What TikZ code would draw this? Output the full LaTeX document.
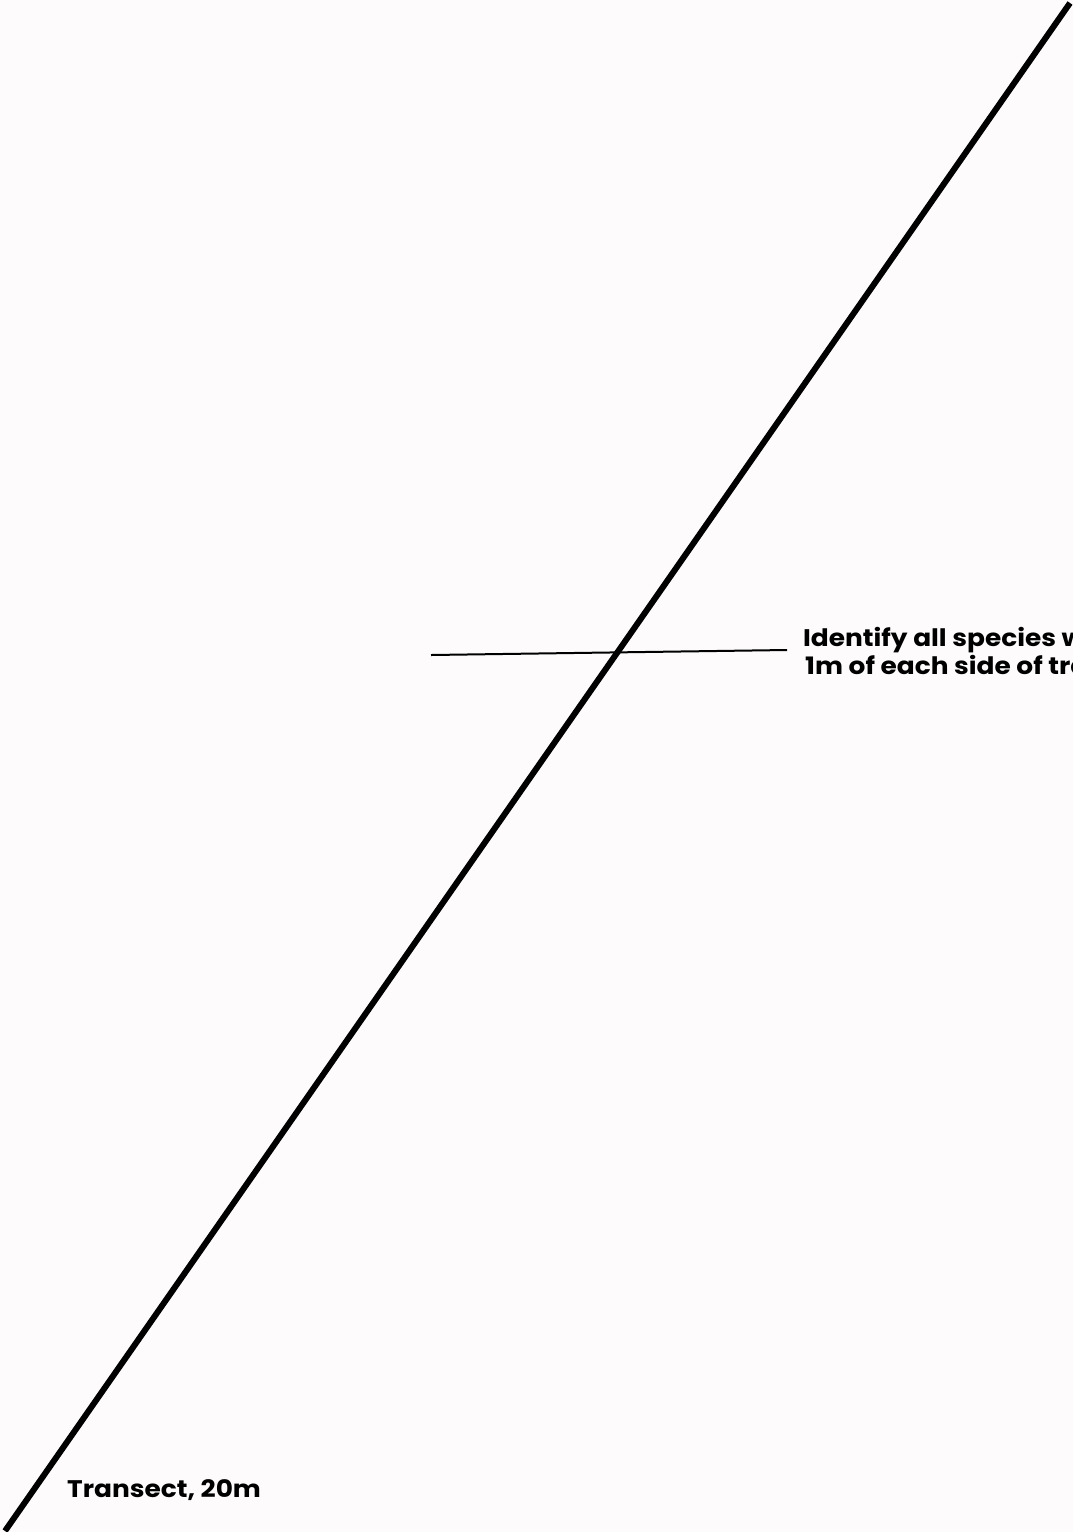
\documentclass[tikz,border=0pt]{standalone}
\usepackage{fontspec}
\setmainfont{Poppins}
\definecolor{bgc}{RGB}{253,251,251}
\newcommand{\widetxt}[1]{\scalebox{1.1}[1]{#1}}
\begin{document}
\begin{tikzpicture}[x=1pt,y=-1pt,
  lbl/.style={inner sep=0pt,anchor=base west,font=\bfseries\fontsize{24}{28}\selectfont}]
\fill[bgc] (0,0) rectangle (1073,1532);
\useasboundingbox (0,0) rectangle (1073,1532);
\coordinate (a) at (5,1531);
\coordinate (b) at (1070,3);
\coordinate (h1) at (431,655);
\coordinate (h2) at (787,650);
\draw[line width=6pt] (a) -- (b);
\draw[line width=2pt] (h1) -- (h2);
\node[lbl] (t1) at (803,646) {\widetxt{Identify all species within}};
\node[lbl] (t2) at (805,674) {\widetxt{1m of each side of transect}};
\node[lbl] (t3) at (67,1497) {\widetxt{Transect, 20m}};
\end{tikzpicture}
\end{document}
